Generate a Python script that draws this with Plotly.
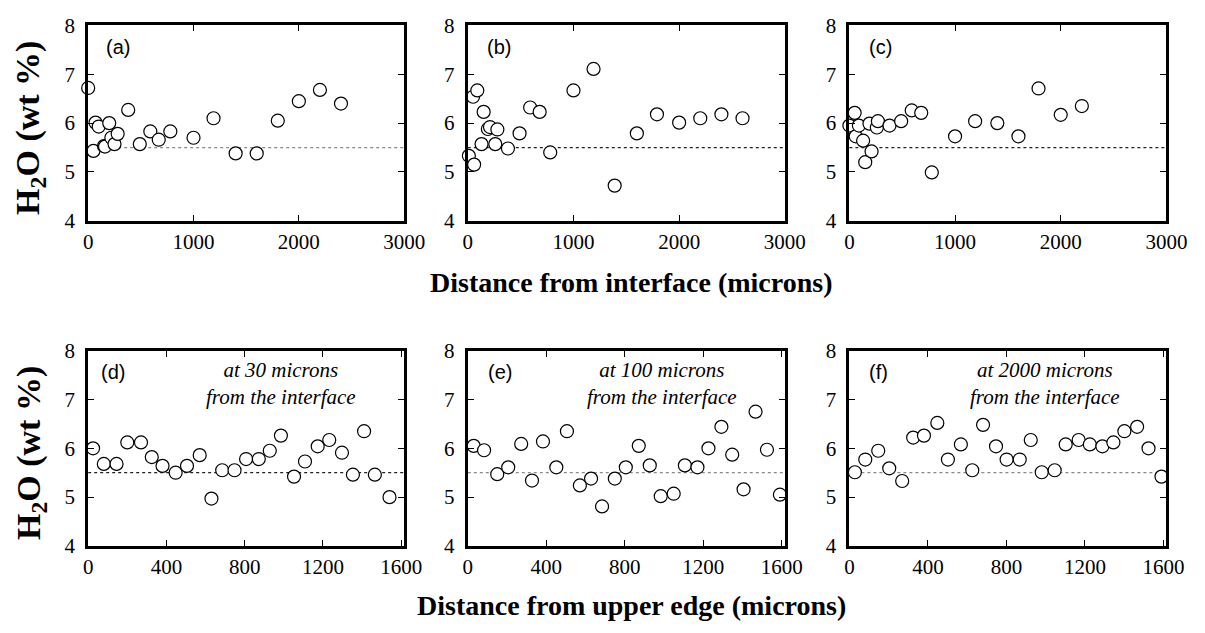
import plotly.graph_objects as go

# ---- H2O profiles perpendicular to the interface (panels a-c) ----
dist_a = [0, 50, 70, 100, 150, 160, 200, 220, 250, 280, 380, 490, 590, 670, 780,
          1000, 1190, 1400, 1600, 1800, 2000, 2200, 2400]
h2o_a = [6.72, 5.43, 6.01, 5.93, 5.53, 5.52, 6.00, 5.70, 5.57, 5.78, 6.27, 5.57, 5.83, 5.66, 5.83,
         5.70, 6.10, 5.38, 5.38, 6.05, 6.45, 6.68, 6.40]

dist_b = [10, 60, 50, 90, 150, 130, 190, 210, 260, 280, 380, 490, 590, 680, 780,
          1000, 1190, 1390, 1600, 1790, 2000, 2200, 2400, 2600]
h2o_b = [5.33, 5.15, 6.54, 6.67, 6.23, 5.57, 5.88, 5.92, 5.57, 5.87, 5.48, 5.79, 6.32, 6.23, 5.40,
         6.67, 7.11, 4.72, 5.79, 6.18, 6.01, 6.10, 6.18, 6.10]

dist_c = [0, 50, 60, 90, 130, 150, 190, 210, 260, 270, 380, 490, 590, 680, 780,
          1000, 1190, 1400, 1600, 1790, 2000, 2200]
h2o_c = [5.95, 6.21, 5.73, 5.95, 5.64, 5.20, 5.99, 5.42, 5.91, 6.04, 5.95, 6.04, 6.26, 6.21, 4.99,
         5.73, 6.04, 6.00, 5.73, 6.71, 6.17, 6.35]

# ---- H2O profiles parallel to the interface (panels d-f) ----
edge_d = [25, 80, 145, 200, 270, 325, 380, 447, 505, 570, 630, 685, 748, 807, 872,
          928, 985, 1052, 1108, 1173, 1232, 1297, 1353, 1410, 1465, 1540]
h2o_d = [6.00, 5.68, 5.68, 6.12, 6.12, 5.82, 5.64, 5.50, 5.64, 5.86, 4.97, 5.55, 5.55, 5.78, 5.78,
         5.95, 6.26, 5.42, 5.73, 6.04, 6.17, 5.91, 5.46, 6.35, 5.46, 5.00]

edge_e = [30, 83, 150, 206, 272, 327, 383, 451, 505, 571, 628, 684, 749, 805, 871,
          927, 983, 1049, 1106, 1170, 1226, 1292, 1347, 1405, 1466, 1524, 1590]
h2o_e = [6.05, 5.96, 5.47, 5.61, 6.09, 5.34, 6.14, 5.61, 6.35, 5.24, 5.38, 4.81, 5.38, 5.61, 6.05,
         5.65, 5.02, 5.07, 5.65, 5.61, 6.00, 6.44, 5.87, 5.16, 6.75, 5.97, 5.05]

edge_f = [28, 81, 147, 203, 269, 325, 380, 448, 502, 568, 626, 681, 747, 801, 868,
          924, 980, 1046, 1102, 1168, 1225, 1289, 1345, 1401, 1466, 1524, 1590]
h2o_f = [5.51, 5.77, 5.95, 5.59, 5.33, 6.22, 6.26, 6.52, 5.77, 6.08, 5.55, 6.48, 6.04, 5.77, 5.77,
         6.17, 5.51, 5.55, 6.08, 6.17, 6.08, 6.04, 6.12, 6.35, 6.44, 6.00, 5.42]

panel_tags = ["(a)", "(b)", "(c)", "(d)", "(e)", "(f)"]
tag_x = [0.093, 0.099, 0.097, 0.079, 0.102, 0.091]
panel_notes = ["", "", "", "at 30 microns<br>from the interface",
               "at 100 microns<br>from the interface", "at 2000 microns<br>from the interface"]
note_x = [0, 0, 0, 0.61, 0.614, 0.617]
reference_h2o = 5.5
ref_colors = ["#8a8a8a", "#222222", "#222222", "#222222", "#8a8a8a", "#8a8a8a"]

top_ticks = [0, 1000, 2000, 3000]
bottom_ticks = [0, 400, 800, 1200, 1600]
y_ticks = [4, 5, 6, 7, 8]

series = [(dist_a, h2o_a), (dist_b, h2o_b), (dist_c, h2o_c),
          (edge_d, h2o_d), (edge_e, h2o_e), (edge_f, h2o_f)]

W, H = 1205, 633
col_px = [(85, 408), (473, 797), (863, 1187)]
row_px = [(14, 217), (352, 555)]

SERIF = "Liberation Serif"
SANS = "Liberation Sans"

fig = go.Figure()
layout = dict(
    width=W, height=H,
    margin=dict(l=0, r=0, t=0, b=0),
    paper_bgcolor="white", plot_bgcolor="white",
    showlegend=False,
    shapes=[], annotations=[],
)

for i, (xs, ys) in enumerate(series):
    r, c = divmod(i, 3)
    n = i + 1
    xa = "xaxis" if n == 1 else f"xaxis{n}"
    ya = "yaxis" if n == 1 else f"yaxis{n}"
    xr = "x" if n == 1 else f"x{n}"
    yr = "y" if n == 1 else f"y{n}"
    x0, x1 = col_px[c]
    y0, y1 = row_px[r]
    ticks = top_ticks if r == 0 else bottom_ticks
    xmax = 3000 if r == 0 else 1615

    layout[xa] = dict(
        domain=[x0 / W, x1 / W], anchor=yr, range=[0, xmax],
        tickvals=ticks, ticktext=[str(t) for t in ticks],
        ticks="inside", ticklen=6, tickwidth=1.2, tickcolor="black",
        showline=True, linecolor="black", linewidth=3, mirror="ticks",
        showgrid=False, zeroline=False,
        tickfont=dict(family=SERIF, size=21, color="black"),
        ticklabelstandoff=0,
    )
    layout[ya] = dict(
        domain=[(H - y1) / H, (H - y0) / H], anchor=xr, range=[4, 8],
        tickvals=y_ticks,
        ticks="inside", ticklen=6, tickwidth=1.2, tickcolor="black",
        showline=True, linecolor="black", linewidth=3, mirror="ticks",
        showgrid=False, zeroline=False,
        tickfont=dict(family=SERIF, size=21, color="black"),
        ticklabelstandoff=6,
    )

    # reference water content
    layout["shapes"].append(dict(
        type="line", xref=f"{xr} domain", yref=yr, x0=0, x1=1,
        y0=reference_h2o, y1=reference_h2o, layer="below",
        line=dict(color=ref_colors[i], width=1.2, dash="dot"),
    ))

    fig.add_trace(go.Scatter(
        x=xs, y=ys, mode="markers", xaxis=xr, yaxis=yr, cliponaxis=False,
        marker=dict(symbol="circle", size=13, color="white",
                    line=dict(color="black", width=1.2)),
    ))

    layout["annotations"].append(dict(
        text=panel_tags[i], xref=f"{xr} domain", yref=f"{yr} domain",
        x=tag_x[i], y=0.89, xanchor="center", yanchor="middle", showarrow=False,
        font=dict(family=SANS, size=20, color="black"),
    ))
    if panel_notes[i]:
        layout["annotations"].append(dict(
            text=f"<i>{panel_notes[i]}</i>", xref=f"{xr} domain", yref=f"{yr} domain",
            x=note_x[i], y=0.833, xanchor="center", yanchor="middle", showarrow=False,
            align="center",
            font=dict(family=SERIF, size=21, color="black"),
        ))

# axis titles
for yc in (120, 458):
    layout["annotations"].append(dict(
        text="<b>H<sub>2</sub>O (wt %)</b>", xref="paper", yref="paper",
        x=26 / W, y=(H - yc) / H, textangle=-90, showarrow=False,
        xanchor="center", yanchor="middle",
        font=dict(family=SERIF, size=34, color="black"),
    ))
for txt, yc in (("Distance from interface (microns)", 281),
                ("Distance from upper edge (microns)", 617)):
    layout["annotations"].append(dict(
        text=f"<b>{txt}</b>", xref="paper", yref="paper",
        x=640 / W, y=(H - yc) / H, showarrow=False,
        xanchor="center", yanchor="middle",
        font=dict(family=SERIF, size=28, color="black"),
    ))

fig.update_layout(**layout)
fig.write_html("out.html")
